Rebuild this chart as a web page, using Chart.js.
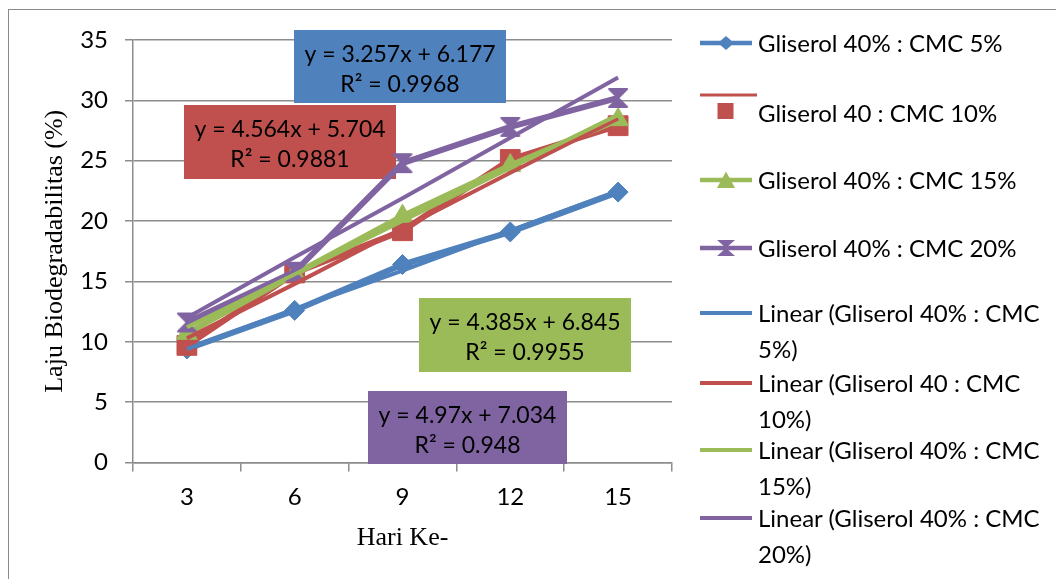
<!DOCTYPE html>
<html><head><meta charset="utf-8">
<script src="https://cdn.jsdelivr.net/npm/chart.js@4.4.1/dist/chart.umd.min.js"></script>
<style>
html,body{margin:0;padding:0;background:#fff;}
#wrap{position:relative;width:1056px;height:579px;overflow:hidden;background:#fff;}
#frame{position:absolute;left:8px;top:9px;width:1200px;height:700px;border:1.5px solid #8a8a8a;box-sizing:border-box;}
#c{position:absolute;left:0;top:0;}
#sw{position:absolute;left:0;top:0;}
.lg{position:absolute;left:758px;font-family:Lato,sans-serif;font-size:24px;color:#000;white-space:nowrap;}
</style></head>
<body><div id="wrap"><div id="frame"></div><canvas id="c" width="1056" height="579"></canvas><svg id="sw" width="1056" height="579"></svg><div id="legend"></div></div>
<script>
const days = ['3','6','9','12','15'];
const seriesNames = ['Gliserol 40% : CMC 5%','Gliserol 40 : CMC 10%','Gliserol 40% : CMC 15%','Gliserol 40% : CMC 20%'];
const cmc5  = [9.4, 12.6, 16.4, 19.1, 22.4];
const cmc10 = [9.7, 15.7, 19.2, 25.1, 27.9];
const cmc15 = [10.7, 15.6, 20.4, 24.6, 28.4];
const cmc20 = [11.6, 15.8, 24.8, 27.8, 30.2];
const trend5  = [9.4, 12.7, 15.9, 19.2, 22.5];
const trend10 = [10.3, 14.8, 19.4, 24.0, 28.5];
const trend15 = [11.2, 15.6, 20.0, 24.4, 28.8];
const trend20 = [12.0, 17.0, 21.9, 26.9, 31.9];
const equations = ['y = 3.257x + 6.177','y = 4.564x + 5.704','y = 4.385x + 6.845','y = 4.97x + 7.034'];
const rSquared = ['R\u00B2 = 0.9968','R\u00B2 = 0.9881','R\u00B2 = 0.9955','R\u00B2 = 0.948'];
const yTicks = [0,5,10,15,20,25,30,35];
const trendNames = seriesNames.map(n => 'Linear (' + n + ')');

const colors = ['#4F81BD','#C0504D','#9BBB59','#8064A2'];
const gridColor = '#8c8c8c';

function hourglass(color, s){
  const c = document.createElement('canvas'); c.width = s; c.height = s;
  const g = c.getContext('2d');
  g.fillStyle = color; g.strokeStyle = color; g.lineWidth = 2; g.lineJoin = 'round';
  g.beginPath(); g.moveTo(2,2); g.lineTo(s-2,2); g.lineTo(2,s-2); g.lineTo(s-2,s-2); g.closePath();
  g.fill(); g.stroke();
  return c;
}

const dataSeries = [cmc5, cmc10, cmc15, cmc20];
const trendSeries = [trend5, trend10, trend15, trend20];
const pointStyles = ['rectRot','rect','triangle', hourglass(colors[3], 22)];
const pointRadius = [10, 14, 12, 11];

const datasets = [];
dataSeries.forEach((d,i) => datasets.push({
  label: seriesNames[i], data: d, borderColor: colors[i], backgroundColor: colors[i],
  borderWidth: 6, pointStyle: pointStyles[i], pointRadius: pointRadius[i], pointBorderWidth: 1,
  pointBackgroundColor: colors[i], pointBorderColor: colors[i], tension: 0, order: 8 - i
}));
trendSeries.forEach((d,i) => datasets.push({
  label: trendNames[i], data: d, borderColor: colors[i], backgroundColor: colors[i],
  borderWidth: 4, pointRadius: 0, tension: 0, order: 4 - i
}));

const boxes = [
  {x:294, y:30, w:212, h:73},
  {x:184, y:105, w:212, h:74},
  {x:419, y:298, w:212, h:74},
  {x:368, y:391, w:199, h:73}
];

const eqPlugin = {
  id: 'eqBoxes',
  beforeDatasetsDraw(chart){
    const ctx = chart.ctx; ctx.save();
    boxes.forEach((b,i) => {
      ctx.fillStyle = colors[i]; ctx.fillRect(b.x, b.y, b.w, b.h);
      ctx.fillStyle = '#000'; ctx.font = '23px Lato'; ctx.textAlign = 'center'; ctx.textBaseline = 'middle';
      ctx.fillText(equations[i], b.x + b.w/2, b.y + 25);
      ctx.fillText(rSquared[i], b.x + b.w/2, b.y + 55);
    });
    ctx.restore();
  }
};

new Chart(document.getElementById('c'), {
  type: 'line',
  data: { labels: days, datasets },
  options: {
    responsive: false, animation: false,
    layout: { padding: { left: 8, right: 384, top: 40, bottom: 10 } },
    plugins: { legend: { display: false }, tooltip: { enabled: false } },
    scales: {
      x: {
        type: 'category', offset: true,
        grid: { offset: true, drawOnChartArea: false, tickLength: 9, color: gridColor, lineWidth: 1.5 },
        border: { color: gridColor, width: 1.5 },
        ticks: { font: { family: 'Lato', size: 24 }, color: '#000', padding: 11, maxRotation: 0 },
        title: { display: true, text: 'Hari Ke-', font: { family: 'Liberation Serif', size: 26 }, color: '#000', padding: { top: 0, bottom: 15 } },
        afterFit: s => { s.height = 106.5; }
      },
      y: {
        min: 0, max: 35,
        afterBuildTicks: s => { s.ticks = yTicks.map(v => ({ value: v })); },
        grid: { color: gridColor, lineWidth: 1.5, tickLength: 8 },
        border: { color: gridColor, width: 1.5 },
        ticks: { font: { family: 'Lato', size: 24 }, color: '#000', padding: 17 },
        title: { display: true, text: 'Laju Biodegradabilitas (%)', font: { family: 'Liberation Serif', size: 26 }, color: '#000', padding: { top: 32, bottom: 0 } },
        afterFit: s => { s.width = 125; }
      }
    }
  },
  plugins: [eqPlugin]
});

// Legend (HTML text + SVG swatches)
const svg = document.getElementById('sw');
const NS = 'http://www.w3.org/2000/svg';
function el(tag, attrs){ const e = document.createElementNS(NS, tag); for (const k in attrs) e.setAttribute(k, attrs[k]); svg.appendChild(e); return e; }
const legend = document.getElementById('legend');
const rowY = [43, 113, 180, 248];
const cx = 726;
seriesNames.forEach((n,i) => {
  const y = rowY[i];
  const c = colors[i];
  if (i === 1) {
    el('line', {x1:700, y1:95, x2:757, y2:95, stroke:c, 'stroke-width':3});
    el('rect', {x:717.5, y:103, width:16, height:16, fill:c});
  } else {
    el('line', {x1:700, y1:y, x2:752, y2:y, stroke:c, 'stroke-width':4.5});
    if (i === 0) el('polygon', {points:`${cx},${y-7} ${cx+8},${y} ${cx},${y+7} ${cx-8},${y}`, fill:c});
    if (i === 2) el('polygon', {points:`${cx},${y-8.5} ${cx+9},${y+8} ${cx-9},${y+8}`, fill:c});
    if (i === 3) el('polygon', {points:`${cx-9},${y-8} ${cx+9},${y-8} ${cx-9},${y+8} ${cx+9},${y+8}`, fill:c});
  }
  const d = document.createElement('div'); d.className = 'lg';
  d.style.top = (y - 15) + 'px'; d.style.lineHeight = '30px'; d.textContent = n;
  legend.appendChild(d);
});
const trendRowY = [313, 383, 450, 518];
trendNames.forEach((n,i) => {
  const y = trendRowY[i];
  el('line', {x1:700, y1:y, x2:752, y2:y, stroke:colors[i], 'stroke-width':4});
  const d = document.createElement('div'); d.className = 'lg';
  d.style.top = (y - 18) + 'px'; d.style.lineHeight = '36px';
  const cut = n.lastIndexOf(' ');
  d.appendChild(document.createTextNode(n.slice(0, cut)));
  d.appendChild(document.createElement('br'));
  d.appendChild(document.createTextNode(n.slice(cut + 1)));
  legend.appendChild(d);
});
</script>
</body></html>
